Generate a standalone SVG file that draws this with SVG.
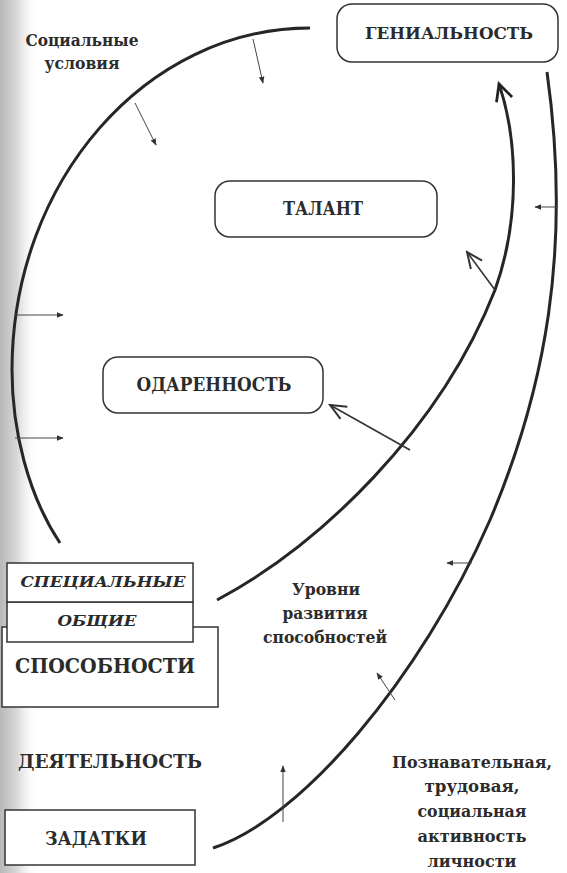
<svg xmlns="http://www.w3.org/2000/svg" width="567" height="873" viewBox="0 0 567 873">
<defs>
<linearGradient id="scan" x1="0" y1="0" x2="1" y2="0">
<stop offset="0" stop-color="#b8b8b8"/>
<stop offset="0.45" stop-color="#d8d8d8"/>
<stop offset="1" stop-color="#ffffff" stop-opacity="0"/>
</linearGradient>
<marker id="ah" viewBox="0 0 10 10" refX="9" refY="5" markerWidth="7" markerHeight="7" markerUnits="userSpaceOnUse" orient="auto">
<path d="M0,1 L10,5 L0,9 Z" fill="#333"/>
</marker>
<marker id="open" viewBox="0 0 20 20" refX="18" refY="10" markerWidth="20" markerHeight="20" markerUnits="userSpaceOnUse" orient="auto">
<path d="M2,3 L18,10 L2,17" fill="none" stroke="#333" stroke-width="2"/>
</marker>
<marker id="openBig" viewBox="0 0 24 24" refX="21" refY="12" markerWidth="22" markerHeight="22" markerUnits="userSpaceOnUse" orient="auto">
<path d="M3,3 L21,12 L3,21" fill="none" stroke="#222" stroke-width="3"/>
</marker>
</defs>
<style>
.t{font-family:"DejaVu Serif","Liberation Serif",serif;font-weight:bold;fill:#2b2b2b}
.box{fill:#fff;stroke:#333;stroke-width:1.5}
.arc{fill:none;stroke:#262626;stroke-width:3}
.sm{fill:none;stroke:#444;stroke-width:1}
.md{fill:none;stroke:#333;stroke-width:1.6}
</style>
<rect x="0" y="0" width="567" height="873" fill="#fff"/>
<rect x="0" y="0" width="38" height="873" fill="url(#scan)"/>

<g id="label-social">
<text class="t" x="82" y="46" font-size="17" text-anchor="middle" textLength="113" lengthAdjust="spacingAndGlyphs">Социальные</text>
<text class="t" x="82" y="69" font-size="17" text-anchor="middle" textLength="75" lengthAdjust="spacingAndGlyphs">условия</text>
</g>

<g id="connectors">
<path class="arc" d="M60,543 C28,495 12,430 12,370 C12,181 146,28 310,28"/>
<path class="arc" d="M217,600 C320,545 440,430 495,290 C520,220 518,140 499,84" marker-end="url(#openBig)"/>
<path class="arc" d="M213,848 C300,820 420,680 490,520 C545,390 572,250 547,72"/>
<line class="sm" x1="253" y1="39" x2="263" y2="83" marker-end="url(#ah)"/>
<line class="sm" x1="135" y1="103" x2="156" y2="145" marker-end="url(#ah)"/>
<line class="sm" x1="15" y1="315" x2="63" y2="315" marker-end="url(#ah)"/>
<line class="sm" x1="15" y1="438" x2="63" y2="438" marker-end="url(#ah)"/>
<line class="md" x1="495" y1="290" x2="467" y2="252" marker-end="url(#open)"/>
<line class="md" x1="410" y1="450" x2="330" y2="405" marker-end="url(#open)"/>
<line class="sm" x1="558" y1="207" x2="535" y2="207" marker-end="url(#ah)"/>
<line class="sm" x1="472" y1="563" x2="447" y2="563" marker-end="url(#ah)"/>
<line class="sm" x1="395" y1="700" x2="377" y2="673" marker-end="url(#ah)"/>
<line class="sm" x1="283" y1="822" x2="283" y2="766" marker-end="url(#ah)"/>
</g>

<g id="genius">
<rect class="box" x="337" y="4" width="221" height="58" rx="15"/>
<text class="t" x="449" y="39" font-size="17" text-anchor="middle" textLength="168" lengthAdjust="spacingAndGlyphs">ГЕНИАЛЬНОСТЬ</text>
</g>
<g id="talent">
<rect class="box" x="215" y="181" width="222" height="56" rx="15"/>
<text class="t" x="323" y="215" font-size="18" text-anchor="middle" textLength="80" lengthAdjust="spacingAndGlyphs">ТАЛАНТ</text>
</g>
<g id="giftedness">
<rect class="box" x="103" y="357" width="220" height="56" rx="15"/>
<text class="t" x="214" y="391" font-size="18" text-anchor="middle" textLength="155" lengthAdjust="spacingAndGlyphs">ОДАРЕННОСТЬ</text>
</g>

<g id="abilities">
<rect class="box" x="2" y="627" width="216" height="80"/>
<text class="t" x="105" y="673" font-size="20" text-anchor="middle" textLength="180" lengthAdjust="spacingAndGlyphs">СПОСОБНОСТИ</text>
</g>
<g id="general">
<rect class="box" x="7" y="602" width="186" height="40"/>
<text class="t" x="97" y="626" font-size="15" font-style="italic" text-anchor="middle" textLength="79" lengthAdjust="spacingAndGlyphs">ОБЩИЕ</text>
</g>
<g id="special">
<rect class="box" x="7" y="563" width="186" height="39"/>
<text class="t" x="103" y="587" font-size="15" font-style="italic" text-anchor="middle" textLength="165" lengthAdjust="spacingAndGlyphs">СПЕЦИАЛЬНЫЕ</text>
</g>

<g id="activity">
<text class="t" x="110" y="768" font-size="19" text-anchor="middle" textLength="184" lengthAdjust="spacingAndGlyphs">ДЕЯТЕЛЬНОСТЬ</text>
</g>
<g id="inclinations">
<rect class="box" x="5" y="810" width="190" height="55"/>
<text class="t" x="96" y="845" font-size="19" text-anchor="middle" textLength="102" lengthAdjust="spacingAndGlyphs">ЗАДАТКИ</text>
</g>

<g id="label-levels">
<text class="t" x="326" y="595" font-size="17" text-anchor="middle" textLength="68" lengthAdjust="spacingAndGlyphs">Уровни</text>
<text class="t" x="325" y="619" font-size="17" text-anchor="middle" textLength="85" lengthAdjust="spacingAndGlyphs">развития</text>
<text class="t" x="325" y="643" font-size="17" text-anchor="middle" textLength="124" lengthAdjust="spacingAndGlyphs">способностей</text>
</g>
<g id="label-activity">
<text class="t" x="472" y="768" font-size="16" text-anchor="middle" textLength="160" lengthAdjust="spacingAndGlyphs">Познавательная,</text>
<text class="t" x="472" y="792" font-size="17" text-anchor="middle" textLength="95" lengthAdjust="spacingAndGlyphs">трудовая,</text>
<text class="t" x="472" y="817" font-size="17" text-anchor="middle" textLength="109" lengthAdjust="spacingAndGlyphs">социальная</text>
<text class="t" x="472" y="842" font-size="17" text-anchor="middle" textLength="109" lengthAdjust="spacingAndGlyphs">активность</text>
<text class="t" x="472" y="867" font-size="17" text-anchor="middle" textLength="89" lengthAdjust="spacingAndGlyphs">личности</text>
</g>
</svg>
